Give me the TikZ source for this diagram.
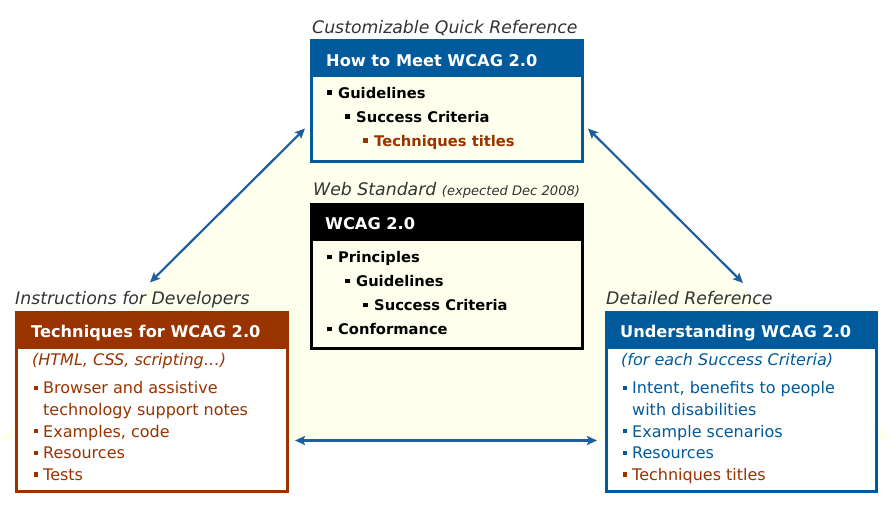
\documentclass[tikz,border=0pt]{standalone}
\usepackage{fontspec}
\setmainfont{DejaVu Sans}
\usetikzlibrary{arrows.meta}
\definecolor{wblue}{HTML}{005A9C}
\definecolor{wbrown}{HTML}{993300}
\definecolor{ivorybg}{RGB}{255,255,237}
\definecolor{arrowblue}{HTML}{1C5EA0}
\definecolor{capgray}{HTML}{333333}
\newcommand\bulA{\makebox[12pt][l]{\hspace{1pt}\rule[3.8pt]{4.6pt}{4.6pt}}}
\newcommand\bulB{\makebox[9.5pt][l]{\rule[4pt]{4.4pt}{4.4pt}}}
\begin{document}
\begin{tikzpicture}[x=1pt,y=-1pt,
  captext/.style={anchor=base west, inner sep=0pt, font=\fontsize{17.3}{20}\selectfont\itshape, text=capgray},
  hdtext/.style={anchor=base west, inner sep=0pt, font=\fontsize{16.2}{19}\selectfont\bfseries, text=white},
  blist/.style={anchor=base west, inner sep=0pt, font=\fontsize{14.7}{17}\selectfont\bfseries, text=black},
  rlist/.style={anchor=base west, inner sep=0pt, font=\fontsize{16}{19}\selectfont},
  sublist/.style={anchor=base west, inner sep=0pt, font=\fontsize{16}{19}\selectfont\itshape},
  boxframe/.style={draw, line width=3pt, inner sep=0pt, outer sep=0pt, minimum width=#1},
  headbar/.style={inner sep=0pt, outer sep=0pt, minimum width=#1, minimum height=38pt},
  arr/.style={draw=arrowblue, line width=2.2pt, {Stealth[length=10pt,width=9pt,inset=2pt]}-{Stealth[length=10pt,width=9pt,inset=2pt]}}
]
\useasboundingbox (0,0) rectangle (892,510);
% background triangle (its top is hidden behind the top box)
\begin{scope}
\clip (0,41) rectangle (892,510);
\fill[ivorybg] (0,440) -- (446,-15) -- (892,440) -- cycle;
\end{scope}

% arrows
\coordinate (a1s) at (150,282.5);
\coordinate (a1e) at (305,128.5);
\coordinate (a2s) at (588,128.5);
\coordinate (a2e) at (743,283);
\coordinate (a3s) at (295,440.5);
\coordinate (a3e) at (597,440.5);
\draw[arr] (a1s) -- (a1e);
\draw[arr] (a2s) -- (a2e);
\draw[arr] (a3s) -- (a3e);

% ---------- top box ----------
\node[captext] (capTop) at (312,33.5) {Customizable Quick Reference};
\node[boxframe=271pt, minimum height=121pt, draw=wblue, fill=ivorybg] (topBox) at (447,101) {};
\node[headbar=274pt, fill=wblue] (topHead) at (447,58.2) {};
\node[hdtext] (topTitle) at (326,66.7) {How to Meet WCAG 2.0};
\node[blist] (t1) at (326,98.7) {\bulA Guidelines};
\node[blist] (t2) at (344,122.7) {\bulA Success Criteria};
\node[blist, text=wbrown] (t3) at (362,146.7) {\bulA Techniques titles};

% ---------- center box ----------
\node[captext] (capMid) at (313,195.7) {Web Standard {\fontsize{13.1}{15}\selectfont(expected Dec 2008)}};
\node[boxframe=271pt, minimum height=144pt, draw=black, fill=ivorybg] (midBox) at (447,276.5) {};
\node[headbar=274pt, fill=black] (midHead) at (447,222) {};
\node[hdtext] (midTitle) at (325,230) {WCAG 2.0};
\node[blist] (m1) at (326,263) {\bulA Principles};
\node[blist] (m2) at (344,287) {\bulA Guidelines};
\node[blist] (m3) at (362,311) {\bulA Success Criteria};
\node[blist] (m4) at (326,335) {\bulA Conformance};

% ---------- left box ----------
\node[captext] (capLeft) at (15,305) {Instructions for Developers};
\node[boxframe=270.5pt, minimum height=179.5pt, draw=wbrown, fill=white] (leftBox) at (151.75,402.25) {};
\node[headbar=273.5pt, fill=wbrown] (leftHead) at (151.75,330) {};
\node[hdtext] (leftTitle) at (31,337.5) {Techniques for WCAG 2.0};
\node[sublist, text=wbrown] (lsub) at (32,366) {(HTML, CSS, scripting…)};
\node[rlist, text=wbrown] (l1) at (33.5,394) {\bulB Browser and assistive};
\node[rlist, text=wbrown] (l1b) at (43,415.7) {technology support notes};
\node[rlist, text=wbrown] (l2) at (33.5,437.3) {\bulB Examples, code};
\node[rlist, text=wbrown] (l3) at (33.5,459) {\bulB Resources};
\node[rlist, text=wbrown] (l4) at (33.5,480.7) {\bulB Tests};

% ---------- right box ----------
\node[captext] (capRight) at (606,305) {Detailed Reference};
\node[boxframe=269.5pt, minimum height=179.5pt, draw=wblue, fill=white] (rightBox) at (741.25,402.25) {};
\node[headbar=272.5pt, fill=wblue] (rightHead) at (741.25,330) {};
\node[hdtext] (rightTitle) at (620,337.5) {Understanding WCAG 2.0};
\node[sublist, text=wblue] (rsub) at (621,366) {(for each Success Criteria)};
\node[rlist, text=wblue] (r1) at (622.5,394) {\bulB Intent, benefits to people};
\node[rlist, text=wblue] (r1b) at (632,415.7) {with disabilities};
\node[rlist, text=wblue] (r2) at (622.5,437.3) {\bulB Example scenarios};
\node[rlist, text=wblue] (r3) at (622.5,459) {\bulB Resources};
\node[rlist, text=wbrown] (r4) at (622.5,480.7) {\bulB Techniques titles};
\end{tikzpicture}
\end{document}
